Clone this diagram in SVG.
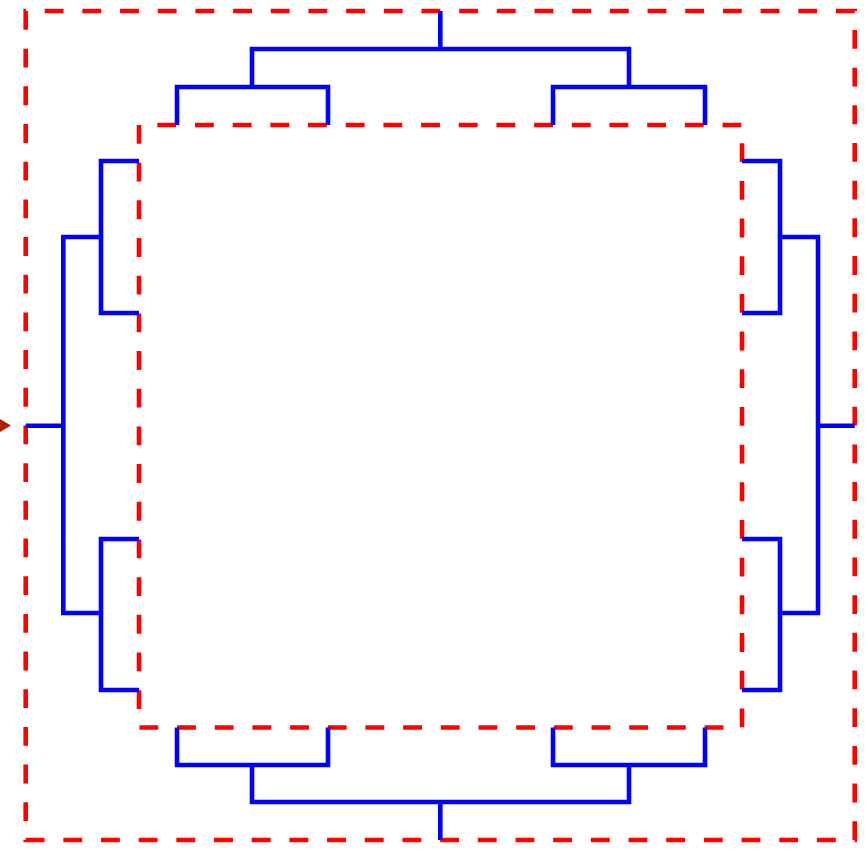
<svg xmlns="http://www.w3.org/2000/svg" width="868" height="851" viewBox="0 0 868 851">
<style>
.box{fill:none;stroke:#ff0000;stroke-width:4.6;stroke-dasharray:18.84 18.84}
.tree{fill:none;stroke:#0000ff;stroke-width:4.6;stroke-linejoin:miter;stroke-linecap:butt}
</style>
<rect width="868" height="851" fill="#ffffff"/>
<g id="outer"><path class="box" d="M25.7,11 V840 H854.7 V11 Z"/></g>
<g id="inner"><path class="box" d="M139,125 V727.5 H742 V125 Z"/></g>
<g id="connectors">
<path class="tree" d="M440.3,11 V49 M252,87 V49 H629 V87 M177,125 V87 H328 V125 M553,125 V87 H705 V125"/>
<path class="tree" d="M440.3,840 V802 M252,765 V802 H629 V765 M177,727.5 V765 H328 V727.5 M553,727.5 V765 H705 V727.5"/>
<path class="tree" d="M25.7,425.7 H63.3 M101,237 H63.3 V613 H101 M139,161 H101 V313 H139 M139,539 H101 V690 H139"/>
<path class="tree" d="M854.7,425.7 H818 M780,237 H818 V613 H780 M742,161 H780 V313 H742 M742,539 H780 V690 H742"/>
<polygon points="0,419 11,425.5 0,432" fill="#b22000"/>
</g>
</svg>
